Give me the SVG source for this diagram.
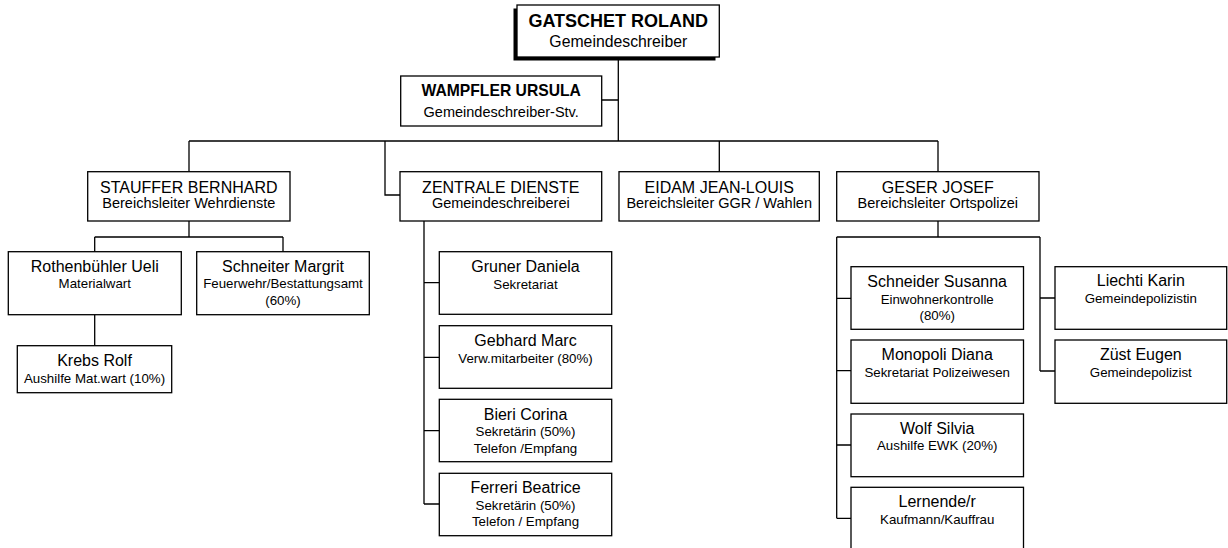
<svg xmlns="http://www.w3.org/2000/svg" width="1228" height="548" viewBox="0 0 1228 548">
<style>
.box{fill:#fff;stroke:#000;stroke-width:1.3}
.shadow{fill:#000}
text{font-family:"Liberation Sans",Arial,sans-serif;fill:#000;text-anchor:middle}
.b{font-weight:bold}
.n{font-size:16px}
.m{font-size:14.5px}
.s{font-size:13.3px}
.c{fill:none;stroke:#000;stroke-width:1.3}
</style>
<rect width="1228" height="548" fill="#fff"/>
<g id="connectors">
<path class="c" d="M618.3 57V141M601.7 100H618.3M189 141H938M189 141V171.7M385 141V195H400M719.3 141V171.7M938 141V171.7"/>
<path class="c" d="M189 221V237M94.7 237H283M94.7 237V251.7M283 237V251.7M94.7 315V345.7"/>
<path class="c" d="M424 221V504M424 282.7H439.3M424 357.3H439.3M424 430.7H439.3M424 504H439.3"/>
<path class="c" d="M938 221V237M836.7 237H1040M836.7 237V518.3M836.7 298.3H851M836.7 370.7H851M836.7 445H851M836.7 518.3H851M1040 237V371M1040 298H1055M1040 371H1055"/>
</g>
<g id="n-gatschet">
<rect class="shadow" x="513.5" y="8.5" width="202" height="52"/>
<rect class="box" x="517" y="5" width="202.3" height="52"/>
<text class="b" x="618.3" y="27" font-size="18">GATSCHET ROLAND</text>
<text x="618.3" y="46.7" font-size="15.8">Gemeindeschreiber</text>
</g>
<g id="n-wampfler">
<rect class="box" x="400.7" y="76" width="201" height="50"/>
<text class="b" x="501.2" y="96" font-size="15.7">WAMPFLER URSULA</text>
<text class="m" x="501.2" y="117">Gemeindeschreiber-Stv.</text>
</g>
<g id="n-stauffer">
<rect class="box" x="87.7" y="171.7" width="202.3" height="49.3"/>
<text class="n" x="188.8" y="192.5">STAUFFER BERNHARD</text>
<text class="m" x="188.8" y="207.5">Bereichsleiter Wehrdienste</text>
</g>
<g id="n-zentrale">
<rect class="box" x="400" y="171.7" width="201.7" height="49.3"/>
<text class="n" x="500.8" y="192.5">ZENTRALE DIENSTE</text>
<text class="m" x="500.8" y="207.5">Gemeindeschreiberei</text>
</g>
<g id="n-eidam">
<rect class="box" x="619" y="171.7" width="200.3" height="49.3"/>
<text class="n" x="719.2" y="192.5">EIDAM JEAN-LOUIS</text>
<text class="m" x="719.2" y="207.5">Bereichsleiter GGR / Wahlen</text>
</g>
<g id="n-geser">
<rect class="box" x="836.7" y="171.7" width="202.3" height="49.3"/>
<text class="n" x="937.8" y="192.5">GESER JOSEF</text>
<text class="m" x="937.8" y="207.5">Bereichsleiter Ortspolizei</text>
</g>
<g id="n-rothenbuehler">
<rect class="box" x="8.3" y="251.7" width="173" height="63"/>
<text class="n" x="94.8" y="272.3">Rothenbühler Ueli</text>
<text class="s" x="94.8" y="288.3">Materialwart</text>
</g>
<g id="n-margrit">
<rect class="box" x="196.7" y="251.7" width="172.6" height="63"/>
<text class="n" x="283" y="272.3">Schneiter Margrit</text>
<text class="s" x="283" y="288.3">Feuerwehr/Bestattungsamt</text>
<text class="s" x="283" y="304.5">(60%)</text>
</g>
<g id="n-krebs">
<rect class="box" x="17.3" y="345.7" width="154.4" height="47"/>
<text class="n" x="94.5" y="366">Krebs Rolf</text>
<text class="s" x="94.5" y="382.7">Aushilfe Mat.wart (10%)</text>
</g>
<g id="n-gruner">
<rect class="box" x="439.3" y="251.7" width="172.4" height="62.6"/>
<text class="n" x="525.5" y="272.2">Gruner Daniela</text>
<text class="s" x="525.5" y="288.6">Sekretariat</text>
</g>
<g id="n-gebhard">
<rect class="box" x="439.3" y="325.7" width="172.4" height="62.6"/>
<text class="n" x="525.5" y="346.1">Gebhard Marc</text>
<text class="s" x="525.5" y="362.8">Verw.mitarbeiter (80%)</text>
</g>
<g id="n-bieri">
<rect class="box" x="439.3" y="399.3" width="172.4" height="62.4"/>
<text class="n" x="525.5" y="419.5">Bieri Corina</text>
<text class="s" x="525.5" y="436.1">Sekretärin (50%)</text>
<text class="s" x="525.5" y="452.7">Telefon /Empfang</text>
</g>
<g id="n-ferreri">
<rect class="box" x="439.3" y="473.3" width="172.4" height="62.4"/>
<text class="n" x="525.5" y="493.4">Ferreri Beatrice</text>
<text class="s" x="525.5" y="510">Sekretärin (50%)</text>
<text class="s" x="525.5" y="526.4">Telefon / Empfang</text>
</g>
<g id="n-schneider">
<rect class="box" x="851" y="266.7" width="172.5" height="62.6"/>
<text class="n" x="937.2" y="287.2">Schneider Susanna</text>
<text class="s" x="937.2" y="303.6">Einwohnerkontrolle</text>
<text class="s" x="937.2" y="320">(80%)</text>
</g>
<g id="n-monopoli">
<rect class="box" x="851" y="340" width="172.5" height="63.3"/>
<text class="n" x="937.2" y="360.2">Monopoli Diana</text>
<text class="s" x="937.2" y="376.7">Sekretariat Polizeiwesen</text>
</g>
<g id="n-wolf">
<rect class="box" x="851" y="414" width="172.5" height="62.7"/>
<text class="n" x="937.2" y="433.8">Wolf Silvia</text>
<text class="s" x="937.2" y="450.3">Aushilfe EWK (20%)</text>
</g>
<g id="n-lernende">
<rect class="box" x="851" y="487.3" width="172.5" height="80"/>
<text class="n" x="937.2" y="507.4">Lernende/r</text>
<text class="s" x="937.2" y="524">Kaufmann/Kauffrau</text>
</g>
<g id="n-liechti">
<rect class="box" x="1055" y="266.7" width="171.7" height="62.6"/>
<text class="n" x="1140.8" y="286.3">Liechti Karin</text>
<text class="s" x="1140.8" y="303.3">Gemeindepolizistin</text>
</g>
<g id="n-zuest">
<rect class="box" x="1055" y="340" width="171.7" height="63.3"/>
<text class="n" x="1140.8" y="360.2">Züst Eugen</text>
<text class="s" x="1140.8" y="376.7">Gemeindepolizist</text>
</g>
</svg>
